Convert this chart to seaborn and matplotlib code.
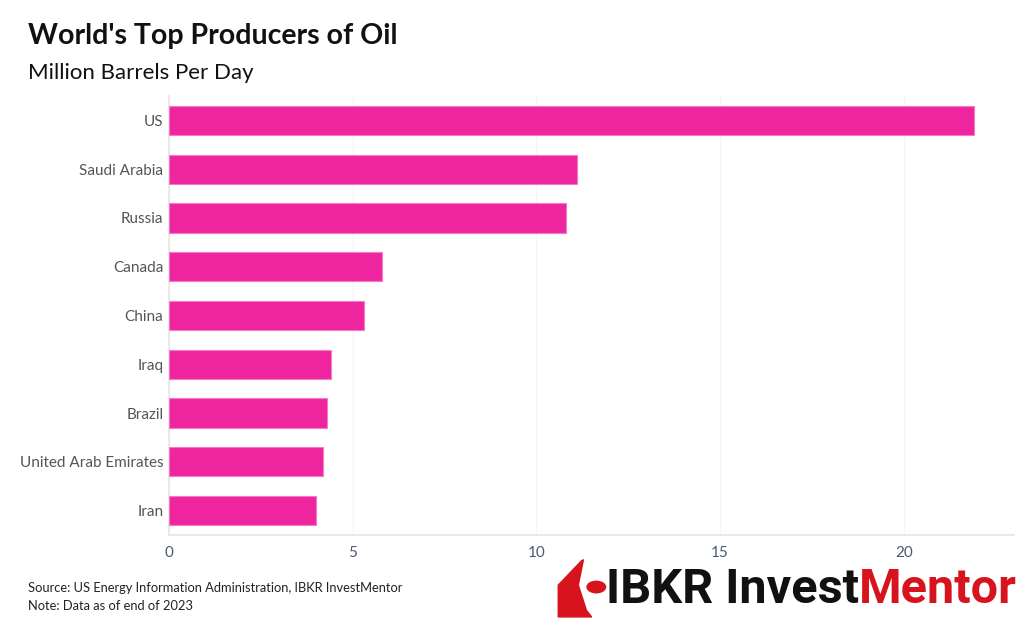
import matplotlib
matplotlib.use("Agg")
import matplotlib.pyplot as plt
import seaborn as sns
import pandas as pd
from matplotlib.patches import Polygon, Circle

countries = ["US", "Saudi Arabia", "Russia", "Canada", "China", "Iraq",
             "Brazil", "United Arab Emirates", "Iran"]
production = [21.9, 11.1, 10.8, 5.8, 5.3, 4.4, 4.3, 4.2, 4.0]
x_ticks = [0, 5, 10, 15, 20]

sns.set_theme(style="white")
plt.rcParams["font.family"] = ["Lato", "DejaVu Sans"]

df = pd.DataFrame({"country": countries, "production": production})

fig = plt.figure(figsize=(10.29, 6.36), dpi=100)
ax = fig.add_axes([0.1642, 0.1588, 0.8212, 0.6902])

sns.barplot(data=df, x="production", y="country", orient="h", ax=ax,
            color="#EF25A0", saturation=1, width=0.6,
            edgecolor="#F27CC4", linewidth=0.8, zorder=3)

ax.set_xlim(0, 23)
ax.set_ylim(len(countries) - 0.5, -0.5)
ax.set_xticks(x_ticks)
ax.set_xticklabels([str(t) for t in x_ticks], color="#4A5A70", fontsize=11)
ax.tick_params(axis="x", length=0, pad=8)
ax.tick_params(axis="y", length=0, pad=4, labelsize=11, labelcolor="#555555")
ax.set_yticks([i + 0.5 for i in range(-1, len(countries))], minor=True)
ax.tick_params(axis="y", which="minor", length=4, color="#DDDDDD", width=1)
ax.set_xlabel("")
ax.set_ylabel("")
ax.grid(axis="x", color="#F6F6F6", linewidth=1, zorder=0)
for side in ["top", "right"]:
    ax.spines[side].set_visible(False)
ax.spines["left"].set_color("#E6E6E6")
ax.spines["bottom"].set_color("#E6E6E6")

fig.text(0.027, 0.943, "World's Top Producers of Oil", fontsize=20.5,
         fontweight="bold", color="#111111", va="center")
fig.text(0.027, 0.886, "Million Barrels Per Day", fontsize=16,
         color="#111111", va="center")

fig.text(0.027, 0.076, "Source: US Energy Information Administration, IBKR InvestMentor",
         fontsize=9.3, color="#222222", va="center")
fig.text(0.027, 0.047, "Note: Data as of end of 2023",
         fontsize=9.3, color="#222222", va="center")

# logo
red = "#D7141E"
blade = Polygon([(0.5425, 0.03), (0.5425, 0.08), (0.565, 0.118), (0.567, 0.12),
                 (0.562, 0.08), (0.57, 0.04), (0.575, 0.03)],
                closed=True, transform=fig.transFigure, color=red)
fig.patches.append(blade)
dot = Circle((0.5795, 0.077), 0.009, transform=fig.transFigure, color=red)
fig.patches.append(dot)
t1 = fig.text(0.589, 0.073, "IBKR Invest", fontsize=35, fontweight="bold",
              color="#111111", va="center",
              family=["Liberation Sans Narrow", "Roboto", "DejaVu Sans"])
fig.canvas.draw()
bb = t1.get_window_extent()
x_end = fig.transFigure.inverted().transform((bb.x1, bb.y0))[0]
fig.text(x_end, 0.073, "Mentor", fontsize=35, fontweight="bold",
         color=red, va="center",
         family=["Liberation Sans Narrow", "Roboto", "DejaVu Sans"])

fig.savefig("out.png", dpi=100)
